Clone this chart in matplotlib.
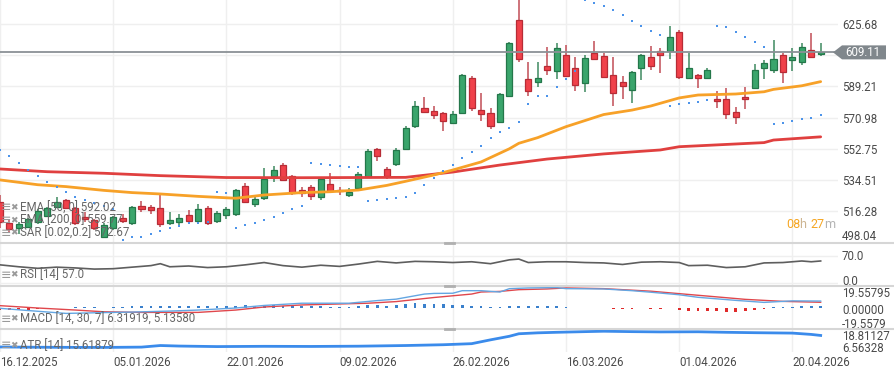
import numpy as np
import matplotlib
matplotlib.use('Agg')
import matplotlib.pyplot as plt
from matplotlib.patches import Polygon
from matplotlib.lines import Line2D
from matplotlib import transforms

plt.rcParams['font.family'] = ['Roboto', 'DejaVu Sans']

# OHLC, one bar per trading day (16.12.2025 .. 23.04.2026)
opens = [521.9, 509.6, 506.4, 507.3, 510.2, 513.6, 519.0, 522.9, 518.1, 513.1,
         511.2, 501.5, 506.4, 512.5, 509.3, 519.6, 518.6, 518.2, 509.6, 509.9,
         513.9, 510.8, 518.4, 510.5, 514.0, 514.7, 531.2, 520.4, 523.9, 537.1,
         543.2, 536.9, 528.7, 530.3, 524.8, 532.2, 528.7, 525.9, 530.1, 536.1,
         552.5, 540.8, 543.7, 552.7, 566.3, 576.4, 574.9, 573.9, 568.0, 573.9,
         594.0, 575.3, 573.9, 568.6, 583.6, 627.8, 593.6, 592.0, 601.0, 598.4,
         607.6, 599.8, 591.0, 608.9, 607.2, 595.7, 591.6, 587.1, 600.2, 606.2,
         610.1, 610.1, 621.2, 594.0, 595.7, 594.0, 581.9, 581.7, 574.5, 583.2,
         588.1, 600.2, 599.0, 607.6, 604.5, 603.3, 610.5, 608.0]
highs = [525.8, 511.2, 510.2, 512.5, 517.5, 519.0, 524.5, 523.6, 519.0, 516.1,
         512.0, 509.5, 513.5, 514.7, 519.5, 522.3, 520.0, 527.1, 516.1, 514.7,
         517.0, 520.4, 519.5, 516.5, 519.0, 529.5, 532.6, 525.2, 541.4, 542.7,
         544.3, 537.5, 530.3, 531.7, 536.0, 538.5, 530.7, 530.1, 539.4, 552.5,
         553.2, 542.0, 553.0, 566.0, 580.7, 582.9, 577.8, 574.5, 574.9, 596.3,
         595.3, 585.2, 576.4, 585.2, 615.0, 639.7, 603.7, 603.3, 612.4, 614.4,
         613.4, 606.6, 607.6, 615.8, 608.6, 606.2, 595.3, 598.5, 608.3, 612.8,
         611.5, 624.5, 622.2, 608.9, 596.5, 599.8, 586.7, 588.1, 577.4, 589.1,
         602.1, 604.7, 616.2, 608.9, 611.5, 614.8, 620.2, 614.8]
lows = [506.5, 504.4, 503.0, 506.5, 509.0, 512.8, 518.0, 517.5, 508.0, 510.2,
        505.5, 500.5, 505.5, 509.6, 508.5, 516.1, 514.7, 506.9, 508.3, 508.3,
        510.0, 510.0, 508.5, 509.5, 512.0, 513.5, 521.0, 519.0, 523.0, 533.6,
        534.0, 526.0, 524.8, 522.9, 522.9, 527.5, 525.7, 524.5, 528.7, 535.5,
        545.7, 535.0, 543.0, 552.0, 564.8, 573.5, 570.2, 563.4, 567.0, 573.0,
        574.9, 569.0, 564.3, 568.0, 583.0, 603.3, 583.6, 588.7, 595.9, 593.7,
        595.0, 586.7, 586.1, 604.5, 594.0, 577.8, 582.1, 579.4, 593.0, 598.8,
        597.2, 605.2, 593.4, 593.3, 588.1, 593.3, 576.6, 570.0, 567.3, 576.0,
        587.5, 593.7, 597.2, 591.4, 598.4, 601.7, 606.0, 607.2]
closes = [510.2, 505.8, 508.9, 511.8, 516.5, 518.1, 521.9, 518.1, 509.3, 511.8,
          506.4, 508.3, 512.8, 510.8, 518.6, 517.6, 517.0, 508.7, 511.2, 512.4,
          510.8, 517.6, 509.6, 515.0, 517.5, 528.7, 521.9, 523.3, 535.2, 540.4,
          534.6, 526.8, 527.1, 525.2, 535.2, 528.3, 527.9, 527.4, 537.9, 551.7,
          548.6, 537.1, 552.1, 565.1, 578.0, 574.5, 572.7, 569.2, 573.3, 595.7,
          576.4, 573.3, 566.3, 584.6, 614.4, 605.4, 586.7, 594.0, 599.0, 611.8,
          595.5, 589.9, 605.6, 605.4, 594.9, 585.6, 589.7, 597.8, 607.6, 601.3,
          607.4, 617.9, 594.9, 599.8, 594.3, 598.8, 580.5, 572.9, 571.5, 581.7,
          598.8, 603.1, 605.1, 597.7, 606.2, 612.4, 606.6, 609.11]

sar = [552.1, 548.8, 544.5, 540.4, 536.9, 533.4, 530.5, 527.6, 524.9, 522.9,
       521.3, 519.6, 517.5, 499.8, 501.1, 501.5, 503.3, 505.0, 506.4, 507.9,
       509.3, 509.6, 510.2, 527.4, 526.8, 506.5, 508.0, 509.5, 511.0, 513.0,
       515.3, 517.5, 519.6, 544.7, 543.9, 543.5, 542.8, 542.3, 542.3, 522.3,
       522.7, 523.3, 523.9, 524.5, 527.0, 531.7, 535.7, 539.8, 543.3, 547.4,
       550.9, 554.6, 558.9, 562.8, 564.8, 568.5, 579.0, 583.5, 583.5, 588.7,
       593.8, 598.2, 639.7, 638.1, 636.0, 633.9, 630.7, 627.6, 624.5, 621.8,
       619.4, 577.8, 579.0, 579.4, 580.3, 581.3, 624.7, 624.1, 621.2, 618.3,
       615.2, 612.4, 567.3, 568.0, 569.0, 570.0, 571.0, 572.67]

ema50_idx = [0, 4, 7, 11, 14, 17, 21, 25, 28, 32, 35, 38, 41, 43, 46, 48, 51, 54,
             55, 57, 60, 64, 67, 69, 72, 74, 78, 81, 82, 85, 87]
ema50_val = [534.6, 531.8, 530.7, 528.5, 527.2, 526.4, 525.0, 523.9, 525.8, 527.2,
             527.7, 528.7, 531.4, 533.8, 537.5, 540.4, 545.1, 552.8, 556.0, 559.3,
             565.7, 572.8, 575.4, 577.8, 582.5, 584.2, 584.8, 586.1, 587.5, 589.6,
             592.02]
ema200_idx = [0, 5, 11, 17, 24, 32, 43, 48, 53, 58, 64, 70, 72, 78, 81, 82, 87]
ema200_val = [541.0, 539.4, 538.5, 537.1, 536.0, 535.9, 536.1, 539.2, 543.3, 546.8,
              549.8, 552.1, 554.0, 555.6, 556.4, 557.9, 559.77]

rsi_idx = [0, 2, 4, 6, 8, 10, 12, 14, 16, 17, 18, 20, 22, 24, 26, 28, 30, 32, 34,
           36, 38, 40, 42, 44, 46, 48, 50, 52, 54, 55, 56, 58, 60, 62, 64, 66, 68,
           70, 72, 73, 75, 77, 79, 81, 83, 85, 86, 87]
rsi_val = [47, 42, 38, 41, 39, 36, 37, 41, 45, 50, 42, 44, 40, 42, 47, 53, 45, 41,
           46, 43, 49, 56, 52, 56, 55, 53, 55, 50, 60, 62, 53, 55, 55, 53, 52, 48,
           54, 55, 53, 45, 46, 40, 42, 52, 53, 57, 55, 57.0]

macd_idx = [0, 3, 7, 11, 14, 18, 21, 25, 28, 32, 37, 40, 42, 45, 46, 48, 49, 51,
            53, 54, 56, 59, 60, 64, 67, 69, 72, 74, 78, 81, 84, 87]
macd_val = [-0.8, -3.0, -5.8, -5.0, -4.5, -3.5, -2.5, -0.5, 2.0, 4.2, 4.2, 6.8,
            8.2, 13.2, 13.8, 14.0, 16.5, 16.5, 15.2, 18.5, 19.2, 19.56, 18.5, 18.2,
            16.5, 15.0, 12.5, 10.0, 7.0, 5.0, 6.5, 6.31919]
signal_idx = [0, 4, 8, 11, 15, 21, 25, 28, 32, 39, 42, 46, 50, 51, 53, 55, 58, 60,
              64, 69, 74, 79, 83, 87]
signal_val = [1.8, -0.5, -2.5, -4.2, -4.8, -4.8, -2.5, 0.5, 2.5, 4.2, 5.8, 9.8,
              13.2, 15.2, 15.8, 17.5, 18.2, 19.2, 18.5, 16.0, 12.0, 8.0, 6.0, 5.1358]
hist = [-2.2, -2.4, -2.2, -2.0, -1.6, -1.2, -0.6, -0.3, 0.2, 0.3,
        0.2, -0.6, 0.2, 0.4, 1.2, 1.5, 1.4, 1.0, 1.2, 1.4,
        1.6, 1.8, 1.8, 1.6, 1.7, 1.9, 2.0, 1.8, 2.0, 2.2,
        1.8, 1.5, 1.6, 1.3, 1.2, 0.8, 0.6, 0.7, 1.2, 2.0,
        2.3, 1.6, 2.2, 3.2, 4.0, 3.8, 3.5, 3.2, 2.8, 2.9,
        1.8, 1.0, 0.6, 0.5, 1.6, 1.8, 1.3, 1.1, 1.2, 1.0,
        0.5, -0.8, -0.4, -0.3, -0.5, -1.2, -1.5, -1.0, -0.8, -1.2,
        -1.5, -0.8, -2.5, -3.0, -3.2, -3.0, -3.8, -4.5, -4.2, -3.5,
        -2.0, -1.0, 0.5, 0.3, 0.8, 1.0, 1.2, 1.18]

atr_idx = [0, 4, 8, 11, 15, 17, 19, 23, 28, 33, 38, 43, 47, 50, 52, 54, 55, 57,
           59, 62, 64, 67, 70, 74, 77, 80, 84, 86, 87]
atr_val = [6.9, 6.7, 6.6, 6.56, 6.8, 8.0, 7.6, 7.2, 7.4, 7.3, 7.5, 8.0, 8.6, 9.4,
           12.3, 15.0, 16.9, 17.6, 18.0, 18.5, 18.81, 18.5, 18.3, 18.4, 18.0, 17.7,
           17.4, 16.4, 15.62]

date_labels = ['16.12.2025', '05.01.2026', '22.01.2026', '09.02.2026',
               '26.02.2026', '16.03.2026', '01.04.2026', '20.04.2026']
price_ticks = [498.04, 516.28, 534.51, 552.75, 570.98, 589.21, 607.44, 625.68]
last_price = 609.11

W, H = 895, 377
fig = plt.figure(figsize=(W / 100, H / 100), dpi=100)
fig.patch.set_facecolor('white')


def fx(px):
    return px / W


def fy(py):
    return 1 - py / H


PLOT_W = 838
ax = fig.add_axes([0, fy(243), fx(PLOT_W), 243 / H])
ax_rsi = fig.add_axes([0, fy(286), fx(PLOT_W), 43 / H], sharex=ax)
ax_macd = fig.add_axes([0, fy(329), fx(PLOT_W), 43 / H], sharex=ax)
ax_atr = fig.add_axes([0, fy(352), fx(PLOT_W), 23 / H], sharex=ax)

txt_col = '#4a4a4a'
grid_col = '#efefef'

for a in (ax, ax_rsi, ax_macd, ax_atr):
    for s in a.spines.values():
        s.set_visible(False)
    a.set_facecolor('none')
    a.grid(True, axis='x', color=grid_col, lw=1)
    a.set_axisbelow(True)
    a.tick_params(axis='both', length=0)

x = np.arange(len(closes))
ax.set_xlim(0, PLOT_W / 9.433)
ax.set_xticks(np.arange(0, 88, 12))
for a in (ax, ax_rsi, ax_macd):
    a.tick_params(axis='x', labelbottom=False)

# --- main price panel ---
ax.set_ylim(497.76, 639.7)
ax.yaxis.tick_right()
ax.set_yticks(price_ticks)
ax.set_yticklabels([f'{v:.2f}' if v != 607.44 else '' for v in price_ticks])
ax.tick_params(axis='y', pad=3, labelsize=8.3, labelcolor=txt_col)
ax.grid(True, axis='y', color=grid_col, lw=1)
ax.get_yticklabels()[0].set_va('bottom')

o = np.array(opens); c = np.array(closes)
hi = np.array(highs); lo = np.array(lows)
up = c >= o
body_lo = np.minimum(o, c)
body_h = np.maximum(np.abs(c - o), 0.9)
face = np.where(up, '#3aa56c', '#f0414a')
edge = np.where(up, '#24774a', '#b72c36')
wick = np.where(up, '#2a7d50', '#bb3a44')
ax.vlines(x, lo, hi, colors=wick, lw=1.1, zorder=2, alpha=0.9)
ax.bar(x, body_h, bottom=body_lo, width=0.64, color=face, edgecolor=edge,
       linewidth=0.9, zorder=3)

ax.plot(ema200_idx, ema200_val, color='#e0403f', lw=2, zorder=4,
        solid_capstyle='round')
ax.plot(ema50_idx, ema50_val, color='#f7a128', lw=2, zorder=4,
        solid_capstyle='round')
ax.plot(x, sar, ls='none', marker='s', ms=1.9, color='#4d94ea', mew=0, zorder=4)
ax.axhline(last_price, color='#8b9196', lw=1.3, zorder=5)

# price tag
bt = transforms.blended_transform_factory(fig.transFigure, ax.transData)
hh = 7 / 1.712
tag = Polygon([(fx(833), last_price), (fx(842), last_price + hh),
               (fx(886), last_price + hh), (fx(886), last_price - hh),
               (fx(842), last_price - hh)], closed=True, transform=bt,
              facecolor='#80878c', edgecolor='none', zorder=10)
fig.add_artist(tag)
fig.text(fx(845), last_price, f'{last_price:.2f}', transform=bt, color='white',
         fontsize=8.3, va='center', ha='left', zorder=11)

# countdown, pieces placed one after the other
renderer = fig.canvas.get_renderer()
cur = 786
for s, col in [('08', '#f5a623'), ('h ', '#cdb592'), ('27', '#f5a623'),
               ('m', '#b3b3b3')]:
    t = fig.text(fx(cur), fy(224), s, color=col, fontsize=9, va='center',
                 ha='left')
    cur += t.get_window_extent(renderer).width

# legends
def legend_row(py, label):
    fig.text(fx(0.5), fy(py), '≡', color='#9a9a9a', fontsize=9, va='center',
             ha='left', family=['DejaVu Sans'])
    fig.text(fx(10.5), fy(py), '✖', color='#9a9a9a', fontsize=6.5, va='center',
             ha='left', family=['DejaVu Sans'])
    fig.text(fx(20.5), fy(py), label, color='#666666', fontsize=8.3,
             va='center', ha='left')

legend_row(208, 'EMA [50, 0] 592.02')
legend_row(220.5, 'EMA [200, 0] 559.77')
legend_row(233, 'SAR [0.02,0.2] 572.67')
legend_row(275, 'RSI [14] 57.0')
legend_row(319, 'MACD [14, 30, 7] 6.31919, 5.13580')
legend_row(345.5, 'ATR [14] 15.61879')

# --- RSI ---
ax_rsi.set_ylim(-7.8, 103.6)
ax_rsi.set_yticks([])
ax_rsi.axhline(70, color=grid_col, lw=1, zorder=0)
ax_rsi.axhline(0, color=grid_col, lw=1, zorder=0)
ax_rsi.plot(rsi_idx, rsi_val, color='#5e5e5e', lw=1.2)

# --- MACD ---
ax_macd.set_ylim(-21.1, 21.1)
ax_macd.set_yticks([])
hcol = ['#3a80cc' if h >= 0 else '#e02a2a' for h in hist]
ax_macd.bar(x, hist, width=0.3, color=hcol, zorder=2)
ax_macd.plot(signal_idx, signal_val, color='#e0474c', lw=1.0, zorder=3)
ax_macd.plot(macd_idx, macd_val, color='#64a6e2', lw=1.0, zorder=3)

# --- ATR ---
ax_atr.set_ylim(3.1, 20.5)
ax_atr.set_yticks([])
ax_atr.plot(atr_idx, atr_val, color='#3b8beb', lw=2)
ax_atr.set_xticklabels(date_labels)
ax_atr.tick_params(axis='x', pad=3, labelsize=8.3, labelcolor=txt_col)
for t in ax_atr.get_xticklabels():
    t.set_ha('left')

# right labels of the small panels
for s, py in [('70.0', 256), ('0.0', 281.5), ('19.55795', 293.5),
              ('0.00000', 311), ('-19.5579', 324.5), ('18.81127', 336.5),
              ('6.56328', 348)]:
    fig.text(fx(842), fy(py), s, color=txt_col, fontsize=8.3, va='center',
             ha='left')

# panel separators
for py in (243, 286, 329):
    fig.add_artist(Line2D([0, 1], [fy(py), fy(py)], transform=fig.transFigure,
                          color='#d6d6d6', lw=1.5))
    fig.add_artist(Line2D([fx(445), fx(454)], [fy(py), fy(py)],
                          transform=fig.transFigure, color='#b0b0b0', lw=2))

fig.savefig('out.png', dpi=100)
